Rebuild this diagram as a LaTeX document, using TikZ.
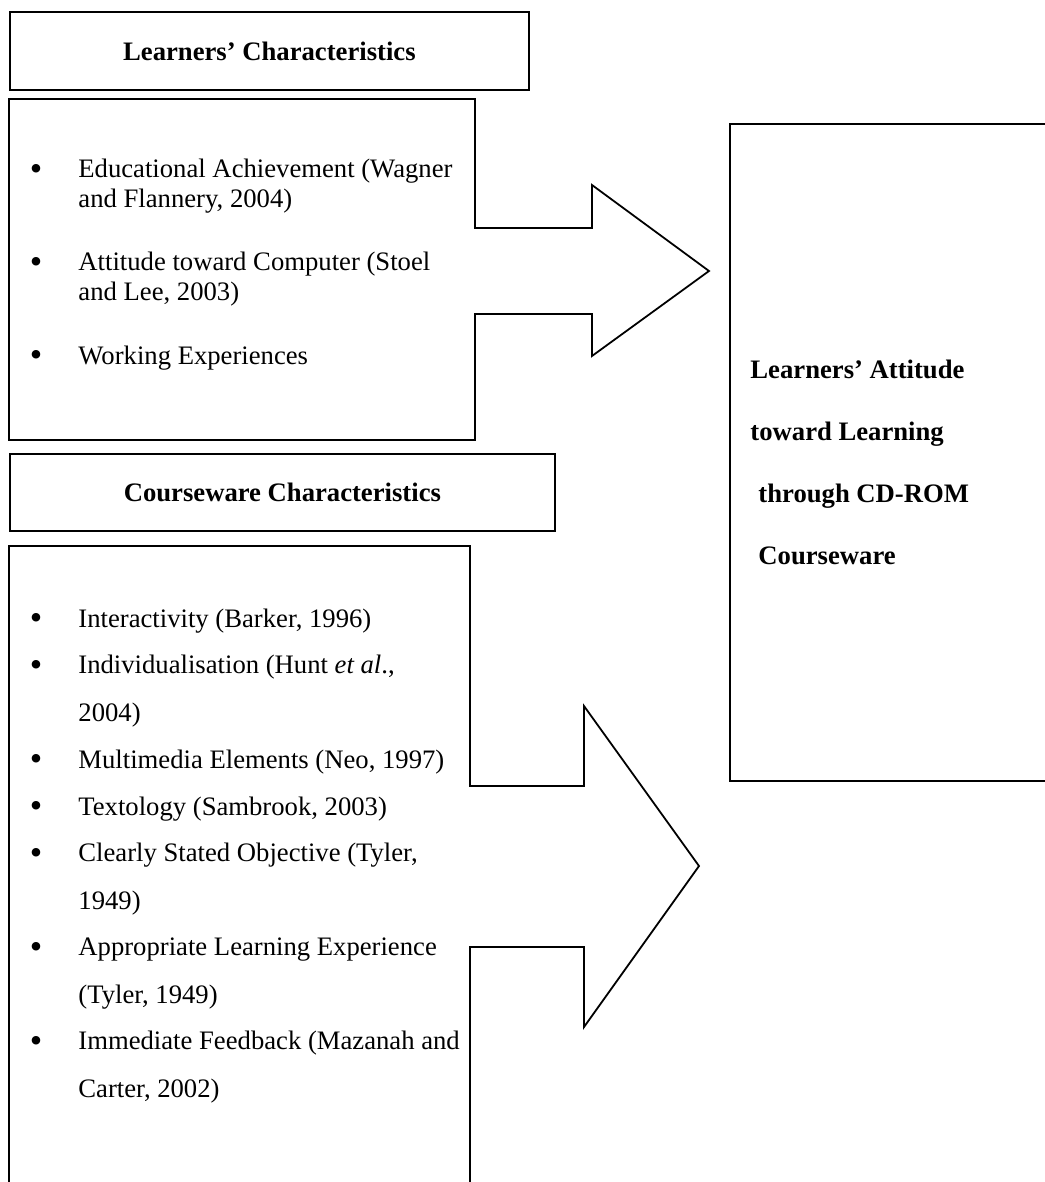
\documentclass[tikz,border=0pt]{standalone}
\usepackage{fontspec}
\setmainfont{Liberation Serif}
\begin{document}
\begin{tikzpicture}[x=0.45pt,y=-0.45pt,
            headbox/.style={rectangle,draw,line width=0.8pt,anchor=north west,inner sep=0pt,font=\fontsize{12}{14}\selectfont\bfseries},
            outline/.style={draw,line width=0.8pt,line join=miter},
            entry/.style={anchor=base west,inner sep=0pt,align=left,font=\fontsize{12}{13.1}\selectfont},
            wideentry/.style={entry,font=\fontsize{12}{21.2}\selectfont},
            dot/.style={anchor=base,inner sep=0pt,font=\fontsize{16}{18}\selectfont}
        ]
            \useasboundingbox (0,0) rectangle (1045,1182);
            \clip (0,0) rectangle (1045,1182);

            % headings
            \node[headbox,minimum width={519*0.45pt},minimum height={78*0.45pt}] (learnhead) at (9,11) {Learners’ Characteristics};
            \node[headbox,minimum width={545*0.45pt},minimum height={77*0.45pt}] (coursehead) at (9,453) {Courseware Characteristics};

            % list boxes with their arrows
            \draw[outline] (9,99) -- (475,99) -- (475,228) -- (592,228) -- (592,185) -- (709,271)
                -- (592,356) -- (592,314) -- (475,314) -- (475,440) -- (9,440) -- cycle;
            \draw[outline] (9,546) -- (470,546) -- (470,786) -- (584,786) -- (584,706) -- (699,866)
                -- (584,1027) -- (584,947) -- (470,947) -- (470,1190) -- (9,1190) -- cycle;

            % outcome box (text base = last line)
            \node[rectangle,draw,line width=0.8pt,anchor=north west,inner sep=0pt,
                minimum width={325*0.45pt},minimum height={657*0.45pt}] (attitude) at (729,123) {};
            \node[entry,font=\fontsize{12}{27.9}\selectfont\bfseries] (attext) at (750,564)
                {Learners’ Attitude\\toward Learning\\\hspace{3.6pt}through CD-ROM\\\hspace{3.6pt}Courseware};

            % learner items: bullet line / last line / text
            \foreach \y/\z/\txt [count=\i] in {178/207/{Educational Achievement (Wagner\\and Flannery, 2004)},
                    271/300/{Attitude toward Computer (Stoel\\and Lee, 2003)},
                    364/364/{Working Experiences}} {
                \node[dot] (lb\i) at (36,\y+2) {•};
                \node[entry] (l\i) at (78,\z) {\txt};
            }

            % courseware items
            \foreach \y/\z/\txt [count=\i] in {627/627/{Interactivity (Barker, 1996)},
                    674/721/{Individualisation (Hunt \textit{et al}.,\\2004)},
                    768/768/{Multimedia Elements (Neo, 1997)},
                    815/815/{Textology (Sambrook, 2003)},
                    862/909/{Clearly Stated Objective (Tyler,\\1949)},
                    956/1003/{Appropriate Learning Experience\\(Tyler, 1949)},
                    1050/1097/{Immediate Feedback (Mazanah and\\Carter, 2002)}} {
                \node[dot] (cb\i) at (36,\y+2) {•};
                \node[wideentry] (c\i) at (78,\z) {\txt};
            }
        \end{tikzpicture}
\end{document}
